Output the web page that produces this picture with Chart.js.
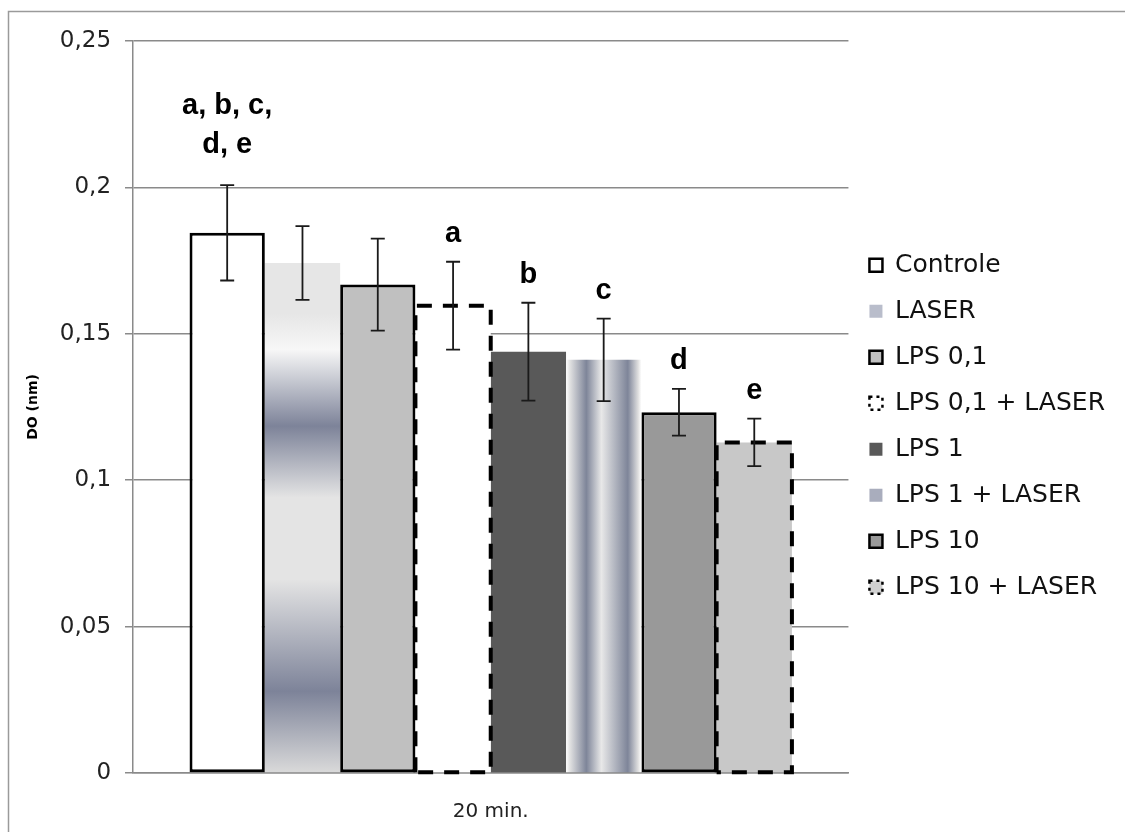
<!DOCTYPE html>
<html lang="pt-BR">
<head>
<meta charset="utf-8">
<title>DO (nm) - 20 min.</title>
<script src="https://cdn.jsdelivr.net/npm/chart.js@4.4.1/dist/chart.umd.min.js"></script>
<style>
    html, body { margin: 0; padding: 0; background: #fff; }
    canvas { display: block; }
</style>
</head>
<body>
<canvas id="grafico" width="1125" height="832"></canvas>
<script>
// Dados do gráfico
const categorias = ['20 min.'];
const grupos = ['Controle', 'LASER', 'LPS 0,1', 'LPS 0,1 + LASER', 'LPS 1', 'LPS 1 + LASER', 'LPS 10', 'LPS 10 + LASER'];
const medias = [0.1845, 0.1742, 0.1668, 0.1596, 0.1439, 0.1411, 0.1232, 0.1129];
const erros = [0.0163, 0.0126, 0.0157, 0.0150, 0.0167, 0.0141, 0.0080, 0.0081];
const letras = [['a, b, c,', 'd, e'], [], [], ['a'], ['b'], ['c'], ['d'], ['e']];
const rotulosY = ['0', '0,05', '0,1', '0,15', '0,2', '0,25'];

const fonte = '"DejaVu Sans", Verdana, sans-serif';
const larguraCategoria = 0.842;

// Posição horizontal da barra i, calculada a partir da escala x
function limitesBarra(chart, i) {
    const x = chart.scales.x;
    const centro = x.getPixelForValue(0);
    const total = x.width * larguraCategoria;
    const w = total / grupos.length;
    const esq = centro - total / 2 + i * w;
    return { esq: esq, dir: esq + w };
}

// Degradê vertical da barra LASER
function degradeVertical(ctx) {
    const chart = ctx.chart;
    if (!chart.chartArea) return '#c8cad3';
    const y = chart.scales.y;
    const topo = y.getPixelForValue(medias[1]);
    const base = y.getPixelForValue(0);
    const g = chart.ctx.createLinearGradient(0, topo, 0, base);
    g.addColorStop(0, '#e6e6e6');
    g.addColorStop(0.10, '#e6e6e6');
    g.addColorStop(0.17, '#f7f7f7');
    g.addColorStop(0.32, '#7d8399');
    g.addColorStop(0.46, '#e4e4e4');
    g.addColorStop(0.62, '#e4e4e4');
    g.addColorStop(0.84, '#7d8399');
    g.addColorStop(1, '#dadada');
    return g;
}

// Degradê horizontal (listrado) da barra LPS 1 + LASER
function degradeHorizontal(ctx) {
    const chart = ctx.chart;
    if (!chart.chartArea) return '#b0b4c2';
    const b = limitesBarra(chart, 5);
    const g = chart.ctx.createLinearGradient(b.esq, 0, b.dir, 0);
    g.addColorStop(0, '#ffffff');
    g.addColorStop(0.05, '#e2e2e2');
    g.addColorStop(0.27, '#7e8599');
    g.addColorStop(0.47, '#e8e8e8');
    g.addColorStop(0.82, '#7e8599');
    g.addColorStop(0.96, '#e0e0e0');
    g.addColorStop(1, '#ffffff');
    return g;
}

const preenchimentos = ['#ffffff', degradeVertical, '#c0c0c0', '#ffffff', '#595959', degradeHorizontal, '#999999', '#c8c8c8'];
const bordas = [3, 0, 3, 0, 0, 0, 3, 0];
const tracejadas = [false, false, false, true, false, false, false, true];

// Caixinhas da legenda
const legendaCor = ['#ffffff', '#b9bdcb', '#c0c0c0', '#ffffff', '#595959', '#a9adbd', '#999999', '#d0d0d0'];

const datasets = grupos.map(function(nome, i) {
    return {
        label: nome,
        data: [medias[i]],
        backgroundColor: preenchimentos[i],
        borderColor: '#000000',
        borderWidth: bordas[i],
        borderSkipped: false,
        barPercentage: 1,
        categoryPercentage: larguraCategoria
    };
});

// Moldura cinza em volta da figura
const moldura = {
    id: 'moldura',
    beforeDraw(chart) {
        const c = chart.ctx;
        c.save();
        c.fillStyle = '#ffffff';
        c.fillRect(0, 0, chart.width, chart.height);
        c.strokeStyle = '#9a9a9a';
        c.lineWidth = 1.5;
        c.strokeRect(8.5, 11.5, chart.width + 20, chart.height + 20);
        c.restore();
    }
};

// Bordas tracejadas, barras de erro e letras de significância
const extras = {
    id: 'extras',
    afterDatasetsDraw(chart) {
        const c = chart.ctx;
        const y = chart.scales.y;
        c.save();
        grupos.forEach(function(nome, i) {
            const el = chart.getDatasetMeta(i).data[0];
            if (!el) return;
            if (tracejadas[i]) {
                const esq = el.x - el.width / 2;
                const dir = el.x + el.width / 2;
                c.beginPath();
                c.setLineDash([15, 11]);
                c.lineWidth = 4;
                c.strokeStyle = '#000';
                c.moveTo(esq, el.base);
                c.lineTo(esq, el.y);
                c.lineTo(dir, el.y);
                c.lineTo(dir, el.base);
                c.lineTo(esq, el.base);
                c.stroke();
                c.setLineDash([]);
            }
        });
        grupos.forEach(function(nome, i) {
            const el = chart.getDatasetMeta(i).data[0];
            if (!el) return;
            const cima = y.getPixelForValue(medias[i] + erros[i]);
            const baixo = y.getPixelForValue(medias[i] - erros[i]);
            c.beginPath();
            c.strokeStyle = '#1a1a1a';
            c.lineWidth = 1.8;
            c.moveTo(el.x, cima);
            c.lineTo(el.x, baixo);
            c.moveTo(el.x - 7, cima);
            c.lineTo(el.x + 7, cima);
            c.moveTo(el.x - 7, baixo);
            c.lineTo(el.x + 7, baixo);
            c.stroke();

            // letras: rótulos de duas linhas ficam um pouco mais altos
            const linhas = letras[i];
            const folga = linhas.length > 1 ? 32 : 20;
            c.fillStyle = '#000';
            c.font = 'bold 29px "Liberation Sans", Arial, sans-serif';
            c.textAlign = 'center';
            c.textBaseline = 'alphabetic';
            for (let k = 0; k < linhas.length; k++) {
                const yy = cima - folga - (linhas.length - 1 - k) * 39;
                c.fillText(linhas[k], el.x, yy);
            }
        });
        c.restore();
    }
};

const grafico = new Chart(document.getElementById('grafico'), {
    type: 'bar',
    data: {
        labels: categorias,
        datasets: datasets
    },
    options: {
        responsive: false,
        animation: false,
        layout: {
            padding: { left: 21, top: 41, right: 10, bottom: -19 }
        },
        plugins: {
            tooltip: { enabled: false },
            legend: {
                position: 'right',
                fullSize: false,
                title: {
                    // espaço vazio para descer um pouco a legenda
                    display: true,
                    text: '',
                    font: { size: 12 },
                    padding: { top: 24, bottom: 0 }
                },
                labels: {
                    color: '#111',
                    font: { family: fonte, size: 25 },
                    boxWidth: 13,
                    boxHeight: 13,
                    padding: 21,
                    generateLabels: function() {
                        return grupos.map(function(nome, i) {
                            return {
                                text: nome,
                                fontColor: '#111',
                                fillStyle: legendaCor[i],
                                strokeStyle: '#000',
                                lineWidth: (bordas[i] || tracejadas[i]) ? 2.5 : 0,
                                lineDash: tracejadas[i] ? [3, 4] : [],
                                hidden: false,
                                datasetIndex: i
                            };
                        });
                    }
                }
            }
        },
        scales: {
            x: {
                grid: { display: false, drawTicks: false, tickLength: 0 },
                border: { display: true, color: '#8a8a8a', width: 1.5 },
                ticks: {
                    color: '#222',
                    font: { family: fonte, size: 20 },
                    padding: 27
                }
            },
            y: {
                min: 0,
                max: 0.25,
                ticks: {
                    stepSize: 0.05,
                    color: '#222',
                    font: { family: fonte, size: 23 },
                    padding: 14,
                    callback: function(valor, indice) {
                        return rotulosY[indice];
                    }
                },
                grid: {
                    color: '#8a8a8a',
                    lineWidth: 1.5,
                    tickLength: 8
                },
                border: { display: true, color: '#8a8a8a', width: 1.5 },
                title: {
                    display: true,
                    text: 'DO (nm)',
                    color: '#000',
                    font: { family: fonte, size: 14, weight: 'bold' },
                    padding: { top: 4, bottom: 4 }
                }
            }
        }
    },
    plugins: [moldura, extras]
});
</script>
</body>
</html>
